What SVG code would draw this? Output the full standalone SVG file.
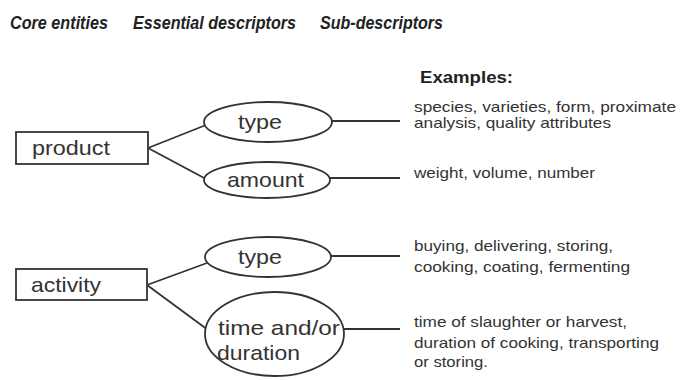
<svg xmlns="http://www.w3.org/2000/svg" width="690" height="380" viewBox="0 0 690 380">
<style>
.h{font-family:"Liberation Sans",Arial,sans-serif;font-size:17.5px;font-weight:bold;font-style:italic;fill:#222}
.n{font-family:"Liberation Sans",Arial,sans-serif;font-size:21px;fill:#333}
.ex{font-family:"Liberation Sans",Arial,sans-serif;font-size:14.5px;fill:#333}
.exh{font-family:"Liberation Sans",Arial,sans-serif;font-size:17px;font-weight:bold;fill:#222}
.s{fill:#fff;stroke:#333;stroke-width:1.8}
.c{stroke:#333;stroke-width:1.8;fill:none}
</style>
<rect width="690" height="380" fill="#fff"/>
<g id="headings">
<text class="h" x="10" y="29" textLength="98" lengthAdjust="spacingAndGlyphs">Core entities</text>
<text class="h" x="133" y="29" textLength="163" lengthAdjust="spacingAndGlyphs">Essential descriptors</text>
<text class="h" x="320" y="29" textLength="123" lengthAdjust="spacingAndGlyphs">Sub-descriptors</text>
</g>
<g id="connectors">
<line class="c" x1="148" y1="148" x2="206" y2="125"/>
<line class="c" x1="148" y1="148" x2="206" y2="179"/>
<line class="c" x1="332" y1="121" x2="400" y2="121"/>
<line class="c" x1="330" y1="178" x2="400" y2="178"/>
<line class="c" x1="147" y1="285" x2="207" y2="263"/>
<line class="c" x1="147" y1="285" x2="208" y2="330"/>
<line class="c" x1="331" y1="256" x2="400" y2="256"/>
<line class="c" x1="344" y1="329" x2="400" y2="329"/>
</g>
<g id="product">
<rect class="s" x="16" y="132" width="132" height="32"/>
<text class="n" x="32" y="155" textLength="78" lengthAdjust="spacingAndGlyphs">product</text>
</g>
<g id="product-type">
<ellipse class="s" cx="268" cy="122" rx="64" ry="20"/>
<text class="n" x="238" y="129" textLength="44" lengthAdjust="spacingAndGlyphs">type</text>
</g>
<g id="product-amount">
<ellipse class="s" cx="267" cy="180" rx="63" ry="18"/>
<text class="n" x="227" y="187" textLength="77" lengthAdjust="spacingAndGlyphs">amount</text>
</g>
<g id="activity">
<rect class="s" x="16" y="269" width="131" height="31"/>
<text class="n" x="31" y="292" textLength="70" lengthAdjust="spacingAndGlyphs">activity</text>
</g>
<g id="activity-type">
<ellipse class="s" cx="268" cy="257" rx="63" ry="20"/>
<text class="n" x="238" y="264" textLength="44" lengthAdjust="spacingAndGlyphs">type</text>
</g>
<g id="activity-time">
<ellipse class="s" cx="274.5" cy="334" rx="69.5" ry="42"/>
<text class="n" x="218" y="335" textLength="122" lengthAdjust="spacingAndGlyphs">time and/or</text>
<text class="n" x="217" y="360" textLength="83" lengthAdjust="spacingAndGlyphs">duration</text>
</g>
<g id="examples">
<text class="exh" x="420" y="83" textLength="93" lengthAdjust="spacingAndGlyphs">Examples:</text>
<text class="ex" x="414" y="112" textLength="262" lengthAdjust="spacingAndGlyphs">species, varieties, form, proximate</text>
<text class="ex" x="414" y="128" textLength="197" lengthAdjust="spacingAndGlyphs">analysis, quality attributes</text>
<text class="ex" x="414" y="178" textLength="181" lengthAdjust="spacingAndGlyphs">weight, volume, number</text>
<text class="ex" x="414" y="251" textLength="199" lengthAdjust="spacingAndGlyphs">buying, delivering, storing,</text>
<text class="ex" x="414" y="272" textLength="216" lengthAdjust="spacingAndGlyphs">cooking, coating, fermenting</text>
<text class="ex" x="414" y="327" textLength="213" lengthAdjust="spacingAndGlyphs">time of slaughter or harvest,</text>
<text class="ex" x="414" y="348" textLength="245" lengthAdjust="spacingAndGlyphs">duration of cooking, transporting</text>
<text class="ex" x="414" y="367" textLength="74" lengthAdjust="spacingAndGlyphs">or storing.</text>
</g>
</svg>
